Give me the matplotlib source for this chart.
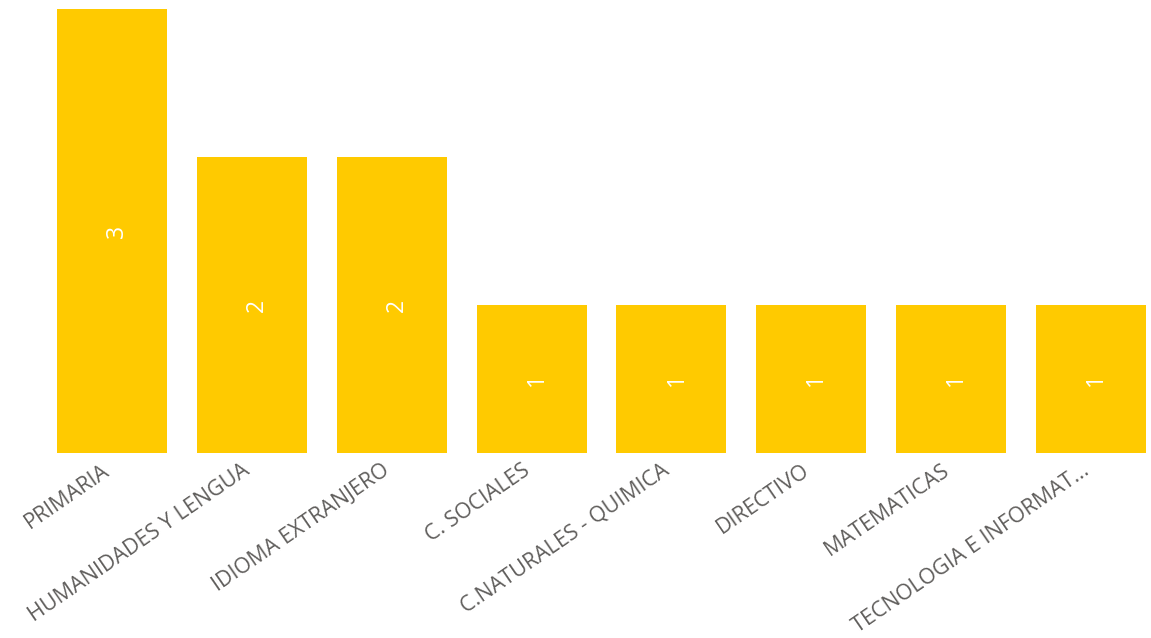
import matplotlib
matplotlib.use("Agg")
import matplotlib.pyplot as plt
import matplotlib.transforms as mtransforms

categories = ["PRIMARIA", "HUMANIDADES Y LENGUA", "IDIOMA EXTRANJERO", "C. SOCIALES",
              "C.NATURALES - QUIMICA", "DIRECTIVO", "MATEMATICAS", "TECNOLOGIA E INFORMAT..."]
values = [3, 2, 2, 1, 1, 1, 1, 1]

plt.rcParams['font.family'] = ['Open Sans', 'DejaVu Sans']

W, H = 1151, 638
fig = plt.figure(figsize=(W / 100, H / 100), dpi=100)
ax = fig.add_axes([57 / W, (H - 453) / H, (1146 - 57) / W, (453 - 9) / H])

x = list(range(len(categories)))
bars = ax.bar(x, values, width=110 / 140, color="#FFCA00")
ax.set_xlim(-0.393, len(categories) - 1 + 0.393)
ax.set_ylim(0, 3)

# value labels, nudged a few pixels right like the original
nudge = mtransforms.ScaledTranslation(5 / 100, 0, fig.dpi_scale_trans)
for xi, v in zip(x, values):
    ax.text(xi, v / 2, str(v), rotation=90, ha="center", va="center",
            color="white", fontsize=16.5, transform=ax.transData + nudge)

ax.set_xticks(x)
ax.set_xticklabels(categories, rotation=34.5, ha="right", rotation_mode="anchor",
                   fontsize=15.5, color="#605E5C")
ax.tick_params(axis="x", length=0, pad=5)
shift = mtransforms.ScaledTranslation(-10 / 100, 0, fig.dpi_scale_trans)
for lbl in ax.get_xticklabels():
    lbl.set_transform(lbl.get_transform() + shift)
ax.set_yticks([])
for s in ax.spines.values():
    s.set_visible(False)

fig.savefig("out.png", dpi=100)
